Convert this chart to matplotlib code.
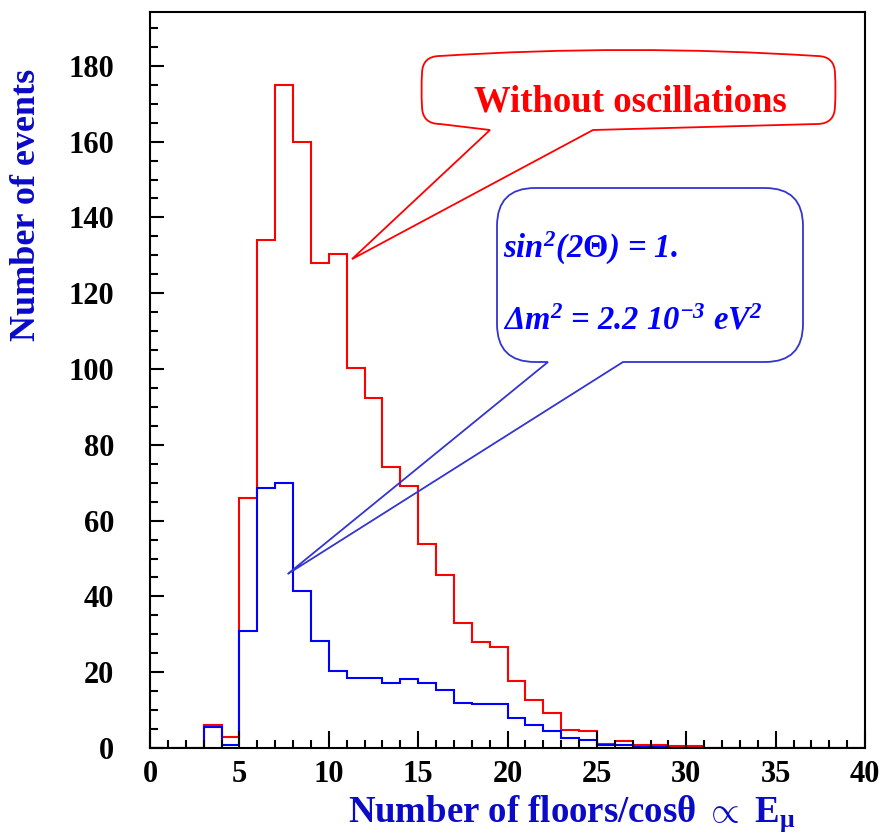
import numpy as np
import matplotlib
matplotlib.use("Agg")
import matplotlib.pyplot as plt
from matplotlib.path import Path
from matplotlib.patches import PathPatch
from matplotlib.transforms import Affine2D
from matplotlib.ticker import MultipleLocator

plt.rcParams["font.family"] = ["Liberation Serif", "DejaVu Serif"]
plt.rcParams["font.weight"] = "bold"
plt.rcParams["mathtext.fontset"] = "custom"
plt.rcParams["mathtext.rm"] = "Liberation Serif:italic:bold"
plt.rcParams["mathtext.it"] = "Liberation Serif:italic:bold"
plt.rcParams["mathtext.bf"] = "Liberation Serif:bold"
plt.rcParams["mathtext.sf"] = "Liberation Serif:bold"

# ---------------------------------------------------------------------------
# Data: histogram contents, bins of width 1 from 0 to 40
# ---------------------------------------------------------------------------
bin_edges = np.arange(0, 41)

no_osc = [0, 0, 0, 6.2, 2.8, 66, 134, 175, 160, 128,
          130.3, 100.2, 92.3, 74.2, 69.2, 53.8, 45.6, 32.9, 28.1, 26.7,
          17.8, 12.6, 9.2, 4.7, 4.6, 1.1, 1.8, 0.9, 0.9, 0.4,
          0.4, 0, 0, 0, 0, 0, 0, 0, 0, 0]

with_osc = [0, 0, 0, 5.5, 0.8, 30.8, 68.7, 69.9, 41.5, 28.3,
            20.4, 18.4, 18.4, 17.2, 18.1, 17.1, 15.3, 12.0, 11.5, 11.5,
            7.9, 6.2, 4.4, 2.7, 2.0, 0.9, 0.9, 0.35, 0.35, 0,
            0, 0, 0, 0, 0, 0, 0, 0, 0, 0]

x_ticks = [0, 5, 10, 15, 20, 25, 30, 35, 40]
y_ticks = [0, 20, 40, 60, 80, 100, 120, 140, 160, 180]

RED = "#ff0000"
BLUE = "#0000ff"
LABEL_BLUE = "#0a0ac8"
BOX_BLUE = "#3434d0"

W, H = 885, 839

fig = plt.figure(figsize=(W / 100, H / 100), dpi=100)
ax = fig.add_axes([150 / W, 1 - 748 / H, 715 / W, 736 / H])

ax.stairs(no_osc, bin_edges, color=RED, linewidth=1.5)
ax.stairs(with_osc, bin_edges, color=BLUE, linewidth=1.5)

ax.set_xlim(0, 40)
ax.set_ylim(0, 194.2)
ax.set_xticks(x_ticks)
ax.set_yticks(y_ticks)
ax.xaxis.set_minor_locator(MultipleLocator(1))
ax.yaxis.set_minor_locator(MultipleLocator(5))
ax.tick_params(axis="both", which="both", direction="in", top=False, right=False,
               width=1.5, labelsize=22)
ax.tick_params(axis="x", which="major", length=12, pad=9)
ax.tick_params(axis="x", which="minor", length=6)
ax.tick_params(axis="y", which="major", length=10, pad=26)
ax.tick_params(axis="y", which="minor", length=6)
for spine in ax.spines.values():
    spine.set_linewidth(1.5)

# ---------------------------------------------------------------------------
# Callout bubbles, drawn in image-pixel coordinates (origin top-left)
# ---------------------------------------------------------------------------
px_tr = Affine2D().scale(1 / W, -1 / H).translate(0, 1) + fig.transFigure


def data_to_px(x, y):
    dx, dy = ax.transData.transform((x, y))
    return dx, H - dy


def callout(x0, y0, x1, y1, r, bl, br, tip, bulge=0, side=0):
    tx, ty = tip
    xm = (x0 + x1) / 2
    ym = (y0 + y1) / 2
    verts = [
        (x0 + r, y0),
        (xm, y0 - 2 * bulge), (x1 - r, y0),
        (x1, y0), (x1, y0 + r),
        (x1 + 2 * side, ym), (x1, y1 - r),
        (x1, y1), (x1 - r, y1),
        (br, y1 + bulge),
        (tx, ty),
        (bl, y1 + bulge),
        (x0 + r, y1),
        (x0, y1), (x0, y1 - r),
        (x0 - 2 * side, ym), (x0, y0 + r),
        (x0, y0), (x0 + r, y0),
    ]
    codes = [Path.MOVETO,
             Path.CURVE3, Path.CURVE3,
             Path.CURVE3, Path.CURVE3,
             Path.CURVE3, Path.CURVE3,
             Path.CURVE3, Path.CURVE3,
             Path.LINETO, Path.LINETO, Path.LINETO, Path.LINETO,
             Path.CURVE3, Path.CURVE3,
             Path.CURVE3, Path.CURVE3,
             Path.CURVE3, Path.CURVE3]
    return Path(verts, codes)


red_tip = data_to_px(11.3, 129)
red_path = callout(422, 56, 835, 124, 18, 490, 593, red_tip, bulge=6, side=0.5)
fig.patches.append(PathPatch(red_path, transform=px_tr, facecolor="none",
                             edgecolor=RED, linewidth=1.3))

blue_tip = data_to_px(7.7, 45.9)
blue_path = callout(497, 188, 803, 362, 38, 548, 623, blue_tip)
fig.patches.append(PathPatch(blue_path, transform=px_tr, facecolor="none",
                             edgecolor=BOX_BLUE, linewidth=1.3))

fig.text(630 / W, 1 - 102 / H, "Without oscillations", color=RED, fontsize=26.5,
         fontweight="bold", ha="center", va="center")
fig.text(503 / W, 1 - 258 / H, r"sin$^{2}$(2$\mathbf{\Theta}$) = 1.", color=BLUE,
         fontsize=23.5, fontweight="bold", fontstyle="italic", ha="left", va="baseline")
fig.text(503 / W, 1 - 330 / H, "Δm$^{2}$ = 2.2 10$^{-3}$ eV$^{2}$", color=BLUE,
         fontsize=23.5, fontweight="bold", fontstyle="italic", ha="left", va="baseline")

# Axis titles
fig.text(348 / W, 1 - 822 / H,
         r"Number of floors/cosθ $\mathbf{\propto}$ E$_{\mathsf{\mu}}$",
         color=LABEL_BLUE, fontsize=26.5, fontweight="bold", ha="left", va="baseline")
fig.text(27 / W, 1 - 205 / H, "Number of events", color=LABEL_BLUE, fontsize=26,
         fontweight="bold", rotation=90, ha="center", va="center")

fig.savefig("out.png", dpi=100, facecolor="white")
